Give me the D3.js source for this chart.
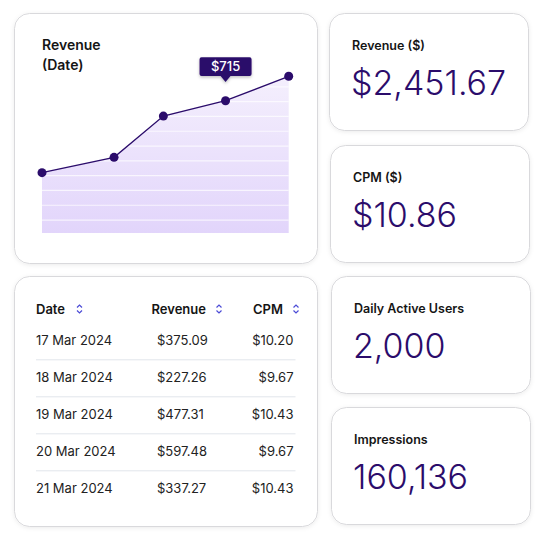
<!DOCTYPE html>
<html>
<head>
<meta charset="utf-8">
<script src="https://cdn.jsdelivr.net/npm/d3@7"></script>
<style>
  html, body { margin: 0; padding: 0; background: #fff; }
  svg text { font-family: Inter, "Noto Sans", sans-serif; }
</style>
</head>
<body>
<div id="dash"></div>
<script>
// chart values
var dates = ['17 Mar', '18 Mar', '19 Mar', '20 Mar', '21 Mar'];
var dayOffsets = [0, 1.46, 2.46, 3.72, 5]; // points are not evenly spaced
var lineValues = [326, 409, 632, 715, 847];
var gridValues = [70, 150, 230, 310, 390, 470, 550, 630, 710, 790];
var tooltipIndex = 3;
var tooltipLabel = '$715';

// table
var tableHeaders = ['Date', 'Revenue', 'CPM'];
var tableDates = ['17 Mar 2024', '18 Mar 2024', '19 Mar 2024', '20 Mar 2024', '21 Mar 2024'];
var tableRevenue = ['$375.09', '$227.26', '$477.31', '$597.48', '$337.27'];
var tableCpm = ['$10.20', '$9.67', '$10.43', '$9.67', '$10.43'];

// stat cards
var statLabels = ['Revenue ($)', 'CPM ($)', 'Daily Active Users', 'Impressions'];
var statValues = ['$2,451.67', '$10.86', '2,000', '160,136'];

var ink = '#2b0c6b';

var svg = d3.select('#dash').append('svg')
    .attr('width', 544)
    .attr('height', 541);

var defs = svg.append('defs');

var shadow = defs.append('filter').attr('id', 'cardShadow')
    .attr('x', '-10%').attr('y', '-10%').attr('width', '120%').attr('height', '125%');
shadow.append('feDropShadow')
    .attr('dx', 0).attr('dy', 1).attr('stdDeviation', 2)
    .attr('flood-color', '#000').attr('flood-opacity', 0.08);

var tipShadow = defs.append('filter').attr('id', 'tipShadow')
    .attr('x', '-20%').attr('y', '-30%').attr('width', '140%').attr('height', '170%');
tipShadow.append('feDropShadow')
    .attr('dx', 0).attr('dy', 1.5).attr('stdDeviation', 1.5)
    .attr('flood-color', '#000').attr('flood-opacity', 0.25);

var grad = defs.append('linearGradient').attr('id', 'areaGrad')
    .attr('x1', 0).attr('x2', 0).attr('y1', 0).attr('y2', 1);
grad.append('stop').attr('offset', '0%').attr('stop-color', '#f4effd');
grad.append('stop').attr('offset', '100%').attr('stop-color', '#e2d5fb');

function card(x, y, w, h) {
    svg.append('rect')
        .attr('x', x + 0.5).attr('y', y + 0.5)
        .attr('width', w).attr('height', h)
        .attr('rx', 15)
        .attr('fill', '#fff')
        .attr('stroke', '#d9d9dc')
        .attr('stroke-width', 1)
        .attr('filter', 'url(#cardShadow)');
}

// --- chart card
card(14, 13, 303, 250);

svg.append('text').attr('x', 42).attr('y', 50)
    .attr('font-size', 14).attr('font-weight', 600).attr('fill', '#151515')
    .text('Revenue');
svg.append('text').attr('x', 42).attr('y', 70)
    .attr('font-size', 14).attr('font-weight', 600).attr('fill', '#151515')
    .text('(Date)');

var x = d3.scaleLinear().domain([0, 5]).range([42, 288.7]);
var y = d3.scaleLinear().domain([0, 900]).range([233, 66.5]);

var pts = dates.map(function(d, i) {
    return { date: d, day: dayOffsets[i], value: lineValues[i] };
});

function px(d) { return x(d.day); }
function py(d) { return y(d.value); }

var area = d3.area().x(px).y0(y(0)).y1(py);
var line = d3.line().x(px).y(py);

defs.append('clipPath').attr('id', 'areaClip')
    .append('path').attr('d', area(pts));

svg.append('path')
    .attr('d', area(pts))
    .attr('fill', 'url(#areaGrad)');

svg.append('g')
    .attr('clip-path', 'url(#areaClip)')
    .selectAll('line')
    .data(gridValues)
    .enter().append('line')
    .attr('x1', 42).attr('x2', 289)
    .attr('y1', function(d) { return y(d); })
    .attr('y2', function(d) { return y(d); })
    .attr('stroke', '#fff')
    .attr('stroke-opacity', 0.7)
    .attr('stroke-width', 1.2);

svg.append('path')
    .attr('d', line(pts))
    .attr('fill', 'none')
    .attr('stroke', ink)
    .attr('stroke-width', 1.3);

svg.append('g').selectAll('circle')
    .data(pts)
    .enter().append('circle')
    .attr('cx', px)
    .attr('cy', py)
    .attr('r', 4.5)
    .attr('fill', ink);

// tooltip
var tp = pts[tooltipIndex];
var tx = px(tp), ty = py(tp);
svg.append('path')
    .attr('filter', 'url(#tipShadow)')
    .attr('d', 'M' + (tx - 24) + ',' + (ty - 43.5) +
        'h48q2,0 2,2v14.7q0,2 -2,2h-19l-5,6l-5,-6h-19q-2,0 -2,-2v-14.7q0,-2 2,-2z')
    .attr('fill', ink);
svg.append('text')
    .attr('x', tx).attr('y', ty - 29.3)
    .attr('text-anchor', 'middle')
    .attr('font-size', 13).attr('font-weight', 500)
    .attr('fill', '#fff')
    .text(tooltipLabel);

// --- table card
card(14, 276, 303, 250);

var colX = [36, 151.5, 253];
var iconX = [79.5, 219, 296];
var head = svg.append('g');
tableHeaders.forEach(function(h, i) {
    head.append('text')
        .attr('x', colX[i]).attr('y', 313.5)
        .attr('font-size', 13).attr('font-weight', 600).attr('fill', '#151515')
        .text(h);
    var ic = head.append('g').attr('transform', 'translate(' + iconX[i] + ',309)');
    ic.append('path').attr('d', 'M-2.5,-1.5L0,-4L2.5,-1.5')
        .attr('fill', 'none').attr('stroke', '#4b4bd6').attr('stroke-width', 1.2);
    ic.append('path').attr('d', 'M-2.5,1.5L0,4L2.5,1.5')
        .attr('fill', 'none').attr('stroke', '#4b4bd6').attr('stroke-width', 1.2);
});

var rowY = d3.scaleLinear().domain([0, 1]).range([345.3, 382.3]);
var rows = svg.append('g').selectAll('g')
    .data(tableDates)
    .enter().append('g');

rows.append('text')
    .attr('x', 36).attr('y', function(d, i) { return rowY(i); })
    .attr('font-size', 13).attr('fill', '#222')
    .text(function(d) { return d; });
rows.append('text')
    .attr('x', 157).attr('y', function(d, i) { return rowY(i); })
    .attr('font-size', 13).attr('fill', '#222')
    .text(function(d, i) { return tableRevenue[i]; });
rows.append('text')
    .attr('x', 293.5).attr('y', function(d, i) { return rowY(i); })
    .attr('text-anchor', 'end')
    .attr('font-size', 13).attr('fill', '#222')
    .text(function(d, i) { return tableCpm[i]; });
rows.filter(function(d, i) { return i < tableDates.length - 1; })
    .append('line')
    .attr('x1', 36).attr('x2', 295.5)
    .attr('y1', function(d, i) { return rowY(i) + 14.5; })
    .attr('y2', function(d, i) { return rowY(i) + 14.5; })
    .attr('stroke', '#e2e5ec').attr('stroke-width', 1);

// --- stat cards
var cardY = [13, 145, 276, 407];
var cardX = [329, 330, 331, 331];
statLabels.forEach(function(label, i) {
    card(cardX[i], cardY[i], 199, 117);
    svg.append('text')
        .attr('x', cardX[i] + 23).attr('y', cardY[i] + 37)
        .attr('font-size', 12.5).attr('font-weight', 600).attr('fill', '#151515')
        .text(label);
    svg.append('text')
        .attr('x', cardX[i] + 22).attr('y', cardY[i] + 81.5)
        .attr('font-size', 34).attr('font-weight', 300).attr('fill', ink)
        .text(statValues[i]);
});
</script>
</body>
</html>
